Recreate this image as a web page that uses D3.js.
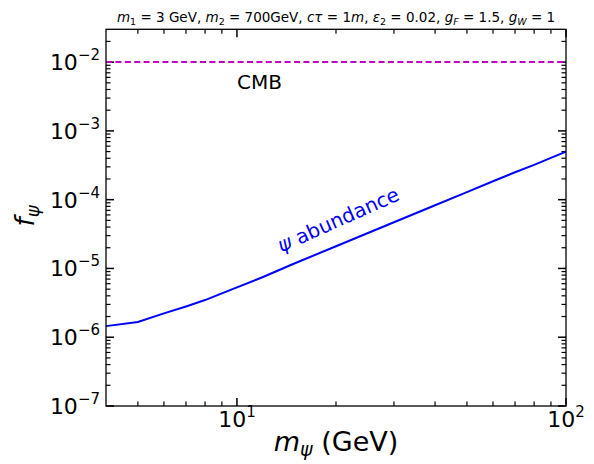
<!DOCTYPE html>
<html>
<head>
<meta charset="utf-8">
<script src="https://cdn.jsdelivr.net/npm/d3@7"></script>
<style>
body { margin: 0; background: #fff; }
svg { font-family: "DejaVu Sans", sans-serif; }
</style>
</head>
<body>
<script>
// psi mass (GeV) and the abundance
var mass = [4, 5, 6, 7, 8, 9, 10, 12, 15, 20, 30, 40, 50, 60, 70, 80, 90, 100];
var abundance = [1.45e-6, 1.67e-6, 2.22e-6, 2.8e-6, 3.47e-6, 4.35e-6, 5.3e-6, 7.5e-6, 1.19e-5,
                 2.1e-5, 4.7e-5, 8.3e-5, 1.29e-4, 1.85e-4, 2.5e-4, 3.2e-4, 4.05e-4, 5.0e-4];
var cmb_limit = 0.01;
var x_major = [10, 100];
var x_major_exp = ['1', '2'];
var y_major = [1e-7, 1e-6, 1e-5, 1e-4, 1e-3, 1e-2];
var y_major_exp = ['\u22127', '\u22126', '\u22125', '\u22124', '\u22123', '\u22122'];

var width = 594, height = 464;
var left = 106, right = 566, top_ = 29.3, bottom = 406;

var svg = d3.select('body').append('svg').attr('width', width).attr('height', height);

var x_scale = d3.scaleLog().domain([4, 100]).range([left, right]);
var y_scale = d3.scaleLog().domain([1e-7, 3e-2]).range([bottom, top_]);

// minor ticks 2..9 per decade
function minor_ticks(lo, hi) {
    var out = [];
    for (var e = Math.floor(Math.log10(lo)); e <= Math.ceil(Math.log10(hi)); e++)
        for (var k = 2; k < 10; k++) {
            var v = k * Math.pow(10, e);
            if (v > lo * 1.0001 && v < hi * 0.9999) out.push(v);
        }
    return out;
}
var x_minor = minor_ticks(4, 100);
var y_minor = minor_ticks(1e-7, 3e-2);

// inward ticks on all four sides
var ticks = svg.append('g').attr('stroke', '#000');
function x_ticks(values, len, w) {
    [[bottom, -len], [top_, len]].forEach(function(s) {
        ticks.append('g').selectAll('line').data(values).enter().append('line')
            .attr('x1', function(d) { return x_scale(d); }).attr('x2', function(d) { return x_scale(d); })
            .attr('y1', s[0]).attr('y2', s[0] + s[1]).attr('stroke-width', w);
    });
}
function y_ticks(values, len, w) {
    [[left, len], [right, -len]].forEach(function(s) {
        ticks.append('g').selectAll('line').data(values).enter().append('line')
            .attr('y1', function(d) { return y_scale(d); }).attr('y2', function(d) { return y_scale(d); })
            .attr('x1', s[0]).attr('x2', s[0] + s[1]).attr('stroke-width', w);
    });
}
x_ticks(x_major, 8, 1.5);
x_ticks(x_minor, 4.5, 1.2);
y_ticks(y_major, 8, 1.5);
y_ticks(y_minor, 4.5, 1.2);

// curve
var line = d3.line().x(function(d) { return x_scale(d[0]); }).y(function(d) { return y_scale(d[1]); });
svg.append('path').datum(d3.zip(mass, abundance))
    .attr('d', line).attr('fill', 'none').attr('stroke', '#0000ff').attr('stroke-width', 2);

// CMB limit
svg.append('line')
    .attr('x1', x_scale(4)).attr('x2', x_scale(100))
    .attr('y1', y_scale(cmb_limit)).attr('y2', y_scale(cmb_limit))
    .attr('stroke', '#bf00bf').attr('stroke-width', 2).attr('stroke-dasharray', '6,3.4');

// frame
svg.append('rect').attr('x', left).attr('y', top_).attr('width', right - left).attr('height', bottom - top_)
    .attr('fill', 'none').attr('stroke', '#000').attr('stroke-width', 1.3);

// tick labels like 10^-2
function pow_label(sel) {
    sel.append('tspan').text('10');
    sel.append('tspan').attr('dy', -10).attr('font-size', 15).text(function(d) { return d.exp; });
}
svg.selectAll('.xlab').data(x_major.map(function(v, i) { return {v: v, exp: x_major_exp[i]}; }))
    .enter().append('text').attr('class', 'xlab')
    .attr('x', function(d) { return x_scale(d.v); }).attr('y', 427)
    .attr('text-anchor', 'middle').attr('font-size', 22).call(pow_label);
svg.selectAll('.ylab').data(y_major.map(function(v, i) { return {v: v, exp: y_major_exp[i]}; }))
    .enter().append('text').attr('class', 'ylab')
    .attr('x', left - 6).attr('y', function(d) { return y_scale(d.v) + 8; })
    .attr('text-anchor', 'end').attr('font-size', 22).call(pow_label);

// axis titles
var xt = svg.append('text').attr('x', (left + right) / 2).attr('y', 451)
    .attr('text-anchor', 'middle').attr('font-size', 27);
xt.append('tspan').attr('font-style', 'italic').text('m');
xt.append('tspan').attr('font-style', 'italic').attr('font-size', 19).attr('dy', 5).text('\u03c8');
xt.append('tspan').attr('dy', -5).text(' (GeV)');

var yt = svg.append('text').attr('transform', 'translate(34,' + 216 + ') rotate(-90)')
    .attr('text-anchor', 'middle').attr('font-size', 26);
yt.append('tspan').attr('font-style', 'italic').text('f');
yt.append('tspan').attr('font-style', 'italic').attr('font-size', 18).attr('dy', 5).text('\u03c8');

// title
var parts = [['m', 'i'], ['1', 's'], [' = 3 GeV, ', 'n'], ['m', 'i'], ['2', 's'], [' = 700GeV, ', 'n'],
             ['c\u03c4', 'i'], [' = 1', 'n'], ['m', 'i'], [', ', 'n'], ['\u03b5', 'i'], ['2', 's'],
             [' = 0.02, ', 'n'], ['g', 'i'], ['F', 'si'], [' = 1.5, ', 'n'], ['g', 'i'], ['W', 'si'], [' = 1', 'n']];
var tt = svg.append('text').attr('x', 336).attr('y', 21.5).attr('text-anchor', 'middle').attr('font-size', 13.5);
var shifted = false;
parts.forEach(function(p) {
    var s = tt.append('tspan').text(p[0]);
    if (p[1] == 'i' || p[1] == 'si') s.attr('font-style', 'italic');
    if (p[1] == 's' || p[1] == 'si') { s.attr('font-size', 9.5).attr('dy', 3); shifted = true; }
    else if (shifted) { s.attr('dy', -3); shifted = false; }
});

// annotations
svg.append('text').attr('x', 237).attr('y', 89).attr('font-size', 20).text('CMB');
var ab = svg.append('text').attr('transform', 'translate(341,226) rotate(-24)')
    .attr('text-anchor', 'middle').attr('font-size', 20).attr('fill', '#0000ff');
ab.append('tspan').attr('font-style', 'italic').text('\u03c8');
ab.append('tspan').text(' abundance');
</script>
</body>
</html>
